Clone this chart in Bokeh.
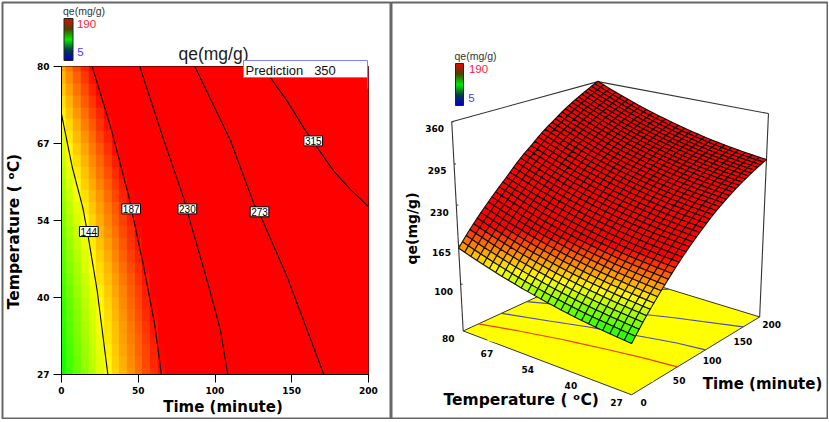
import numpy as np
from bokeh.core.properties import value
from bokeh.embed import file_html
from bokeh.layouts import row
from bokeh.models import (ColorBar, ColumnDataSource, FixedTicker, Label, LinearColorMapper, Range1d)
from bokeh.plotting import figure
from bokeh.resources import INLINE

# ---------- values ----------
time_axis = list(range(0, 205, 5))
temp_ticks = [27, 40.25, 53.5, 66.75, 80]
temp_tick_labels = ["27", "40", "54", "67", "80"]
time_ticks = [0, 50, 100, 150, 200]
z_ticks = [100, 165, 230, 295, 360]
n_temps = 27

# qe along the 27 C edge, one value every 5 minutes
qe_at_27C = [100, 108, 115.8, 123.3, 130.4, 137.3, 144, 150.6, 157, 163.2, 169.2, 175.3, 181.2, 187,
             192.6, 198, 203.2, 208.2, 213, 217.8, 222.6, 227.3, 231.8, 236, 240, 243.9, 247.6, 251.2,
             254.7, 258, 261.2, 264.3, 267.2, 270, 272.7, 275.3, 277.8, 280.2, 282.5, 284.7, 286.8]
# rise of qe above the 27 C edge, for 27 temperature rows
rise_by_temp = [0, 1.1, 2.2, 3.4, 4.7, 6.1, 7.5, 9.1, 10.8, 12.7, 14.6, 16.7, 18.8, 21, 23.4, 25.9, 28.4,
                31.1, 33.8, 36.7, 39.8, 42.9, 46.1, 49.4, 52.8, 56.4, 60]
# how much that rise grows with time
rise_scale_by_time = [1, 1, 1, 1, 1, 1, 1, 1, 1, 1, 1, 1, 1, 1,
                      1.01, 1.02, 1.03, 1.04, 1.05, 1.05, 1.05, 1.06, 1.07, 1.08, 1.09, 1.1, 1.1, 1.11,
                      1.12, 1.13, 1.14, 1.15, 1.16, 1.17, 1.17, 1.18, 1.19, 1.2, 1.21, 1.22, 1.23]

c144_time = [0, 7, 14, 17.8, 23.2, 30.2]
c144_temp = [71.8, 62.7, 55.6, 50.1, 41.5, 27]
c187_time = [20, 32, 43.9, 46.7, 53.6, 60.6, 65.1]
c187_temp = [80, 69.6, 57.6, 54.1, 45.5, 35.8, 27]
c230_time = [51, 66.7, 79.3, 83, 96, 103.6, 108.3]
c230_temp = [80, 67.3, 57.6, 54.1, 42.1, 34.6, 27]
c273_time = [86.9, 110, 125.3, 130, 147, 170.9]
c273_temp = [80, 67.3, 56.4, 54.1, 43.8, 27]
c315_time = [132, 136, 147.2, 157.9, 167.5, 177.4, 188.3, 200]
c315_temp = [80, 78.1, 74, 69.4, 65.7, 62, 58.8, 55.9]
contour_levels = [144, 187, 230, 273, 315]
label_time = [17.8, 45.4, 82, 129, 164]
label_temp = [51.6, 55.5, 55.5, 55, 67.2]

# ---------- colours ----------
stops = [(0, 0, 255), (0, 255, 255), (0, 255, 0), (255, 255, 0), (255, 0, 0)]
def ramp(stop_list, n):
    xs = np.linspace(0, len(stop_list) - 1, n)
    arr = np.array(stop_list, float)
    return ["#%02x%02x%02x" % tuple(int(np.interp(x, range(len(stop_list)), arr[:, k])) for k in range(3)) for x in xs]
qe_mapper = LinearColorMapper(palette=ramp(stops, 256), low=5, high=190, high_color="#ff0000")
legend_mapper = LinearColorMapper(palette=ramp([(0, 0, 200), (0, 60, 70), (0, 235, 0), (70, 70, 0), (225, 10, 0)], 64), low=5, high=190)

qe = np.array(qe_at_27C)[None, :] + np.array(rise_by_temp)[:, None] * np.array(rise_scale_by_time)[None, :]
temp_rows = np.linspace(27, 80, n_temps)

contours = [(c144_time, c144_temp), (c187_time, c187_temp), (c230_time, c230_temp),
            (c273_time, c273_temp), (c315_time, c315_temp)]

W1, W2, H = 390, 437, 418
ORIGIN = 1
BORDER = "#666666"

# ---------- left: contour plot ----------
left = figure(width=W1, height=H, x_range=Range1d(0, 200), y_range=Range1d(27, 80),
              output_backend="svg", toolbar_location=None, min_border_left=60, min_border_right=23,
              min_border_top=65, min_border_bottom=45, frame_align=False)
left.grid.visible = False
left.outline_line_color = "black"
left.image(image=[qe], x=-2.5, y=27 - 53 / 52, dw=205, dh=53 + 53 / 26, color_mapper=qe_mapper)
for cx, cy in contours:
    left.line(cx, cy, line_color="black", line_width=1.1)
left.xaxis.ticker = FixedTicker(ticks=time_ticks)
left.yaxis.ticker = FixedTicker(ticks=temp_ticks)
left.yaxis.major_label_overrides = dict(zip(temp_ticks, temp_tick_labels))
for ax in (left.xaxis[0], left.yaxis[0]):
    ax.major_label_text_font = "DejaVu Sans"
    ax.major_label_text_font_style = "bold"
    ax.major_label_text_font_size = "9px"
    ax.major_label_text_color = "black"
    ax.major_tick_out = 8
    ax.major_tick_in = 0
    ax.minor_tick_line_color = None
    ax.axis_line_color = "black"
    ax.major_label_standoff = 4

for lev, lt, lT in zip(contour_levels, label_time, label_temp):
    left.add_layout(Label(x=lt, y=lT, text=str(lev), text_font="Liberation Sans", text_font_size="10px",
                          text_color="black", text_align="center", text_baseline="middle",
                          background_fill_color="white", border_line_color="black", border_line_width=1,
                          padding=1))

left.segment(x0=[199.6], y0=[80], x1=[199.6], y1=[76.2], line_color="#8080ff", line_width=1)

cb_left = ColorBar(color_mapper=legend_mapper, width=9, height=42, location=(2.5, 314), padding=0, margin=0,
                   ticker=FixedTicker(ticks=[]), major_tick_line_color=None, major_label_text_font_size="0px",
                   bar_line_color="#222222", background_fill_color=None, border_line_color=None)
left.add_layout(cb_left, "center")

# transparent sheet over the left panel: its frame is the panel border, it holds the outer texts
sheet = figure(width=W1, height=H, x_range=Range1d(ORIGIN + 1, ORIGIN + W1), y_range=Range1d(ORIGIN + H - 1, ORIGIN + 1),
               output_backend="svg", toolbar_location=None, x_axis_location=None, y_axis_location=None,
               min_border_left=1, min_border_top=1, min_border_bottom=1, min_border_right=0, frame_align=False,
               background_fill_color=None, border_fill_color=None, margin=(0, 0, 0, -W1))
sheet.grid.visible = False
sheet.outline_line_color = BORDER
sheet.outline_line_width = 2

def put_text(fig, x, y, text, size, color="black", font="DejaVu Sans", style="bold", angle=0, align="center"):
    fig.text([x], [y], text=[text], text_font=value(font), text_font_size=value(size), text_font_style=style,
             text_color=color, text_align=align, text_baseline="middle", angle=angle)

SANS = "Liberation Sans"
put_text(sheet, 213, 53, "qe(mg/g)", "17.5px", "#222222", SANS, "normal")
put_text(sheet, 222.5, 406.5, "Time (minute)", "15px")
put_text(sheet, 13, 231, "Temperature ( ᵒC)", "15.5px", angle=np.pi / 2)
put_text(sheet, 83.5, 10, "qe(mg/g)", "10.5px", "#333333", SANS, "normal")
put_text(sheet, 86, 23, "190", "11.5px", "#ff2040", SANS, "normal")
put_text(sheet, 80, 51, "5", "11.5px", "#4040ff", SANS, "normal")
sheet.quad(left=[243], right=[367], top=[60], bottom=[77], fill_color="white", line_color="#8080ff", line_width=1)
put_text(sheet, 245, 69.5, "Prediction\u00a0\u00a0\u00a0350", "13px", "#111111", SANS, "normal", align="left")

# ---------- right: 3D surface ----------
right = figure(width=W2, height=H, x_range=Range1d(ORIGIN + W1, ORIGIN + W1 + W2 - 1),
               y_range=Range1d(ORIGIN + H - 1, ORIGIN + 1), output_backend="svg", toolbar_location=None,
               x_axis_location=None, y_axis_location=None, min_border_left=0, min_border_top=1,
               min_border_bottom=1, min_border_right=1, frame_align=False)
right.grid.visible = False
right.outline_line_color = BORDER
right.outline_line_width = 2

Z0, Z1 = 20, 360
corners_world = [(0, 80, Z0), (0, 27, Z0), (200, 27, Z0), (200, 80, Z0), (0, 80, Z1), (200, 80, Z1), (200, 27, Z1)]
corners_page = [(461.7, 330), (631.7, 394.3), (758.3, 316.7), (600.3, 267.6), (451.7, 121.7), (596.7, 81), (768.3, 112.7)]

def norm(t, T, z):
    return np.array([np.asarray(t, float) / 200, (80 - np.asarray(T, float)) / 53, (np.asarray(z, float) - Z0) / (Z1 - Z0)])

A = []
for w, (u, v) in zip(corners_world, corners_page):
    X = norm(*w)
    h = [X[0], X[1], X[2], 1]
    A.append(h + [0, 0, 0, 0] + [-u * c for c in h])
    A.append([0, 0, 0, 0] + h + [-v * c for c in h])
CAM = np.linalg.svd(np.array(A))[2][-1].reshape(3, 4)

def project(t, T, z):
    X = norm(t, T, z)
    hom = np.stack([X[0], X[1], X[2], np.ones_like(X[0])])
    q = CAM @ hom
    return q[0] / q[2], q[1] / q[2]

def pxy(t, T, z):
    x, y = project(np.array(t, float), np.array(T, float), np.array(z, float))
    return list(np.atleast_1d(x)), list(np.atleast_1d(y))

fx, fy = pxy([0, 0, 200, 200], [80, 27, 27, 80], [Z0] * 4)
right.patch(fx, fy, fill_color="#ffff00", line_color="#333333", line_width=1)
for (cx, cy), lev in zip(contours, contour_levels):
    lx, ly = pxy(cx, cy, [Z0] * len(cx))
    color = "#ffff00" if lev == 144 else "#f03a10" if lev == 187 else "#4848c0"
    right.line(lx, ly, line_color=color, line_width=1.2)
for t0, T0, z0, t1, T1, z1 in [(0, 80, Z0, 0, 80, Z1), (200, 80, Z0, 200, 80, Z1), (200, 27, Z0, 200, 27, Z1),
                               (0, 80, Z1, 200, 80, Z1), (200, 80, Z1, 200, 27, Z1)]:
    lx, ly = pxy([t0, t1], [T0, T1], [z0, z1])
    right.line(lx, ly, line_color="#333333", line_width=1.1)
for zt in z_ticks:
    lx, ly = pxy([0], [80], [zt])
    right.segment(x0=[lx[0]], y0=[ly[0]], x1=[lx[0] + 2], y1=[ly[0]], line_color="#333333")

xs, ys, vals, depth = [], [], [], []
tt = np.array(time_axis, float)
for i in range(n_temps - 1):
    for j in range(len(time_axis) - 1):
        ct = [tt[j], tt[j + 1], tt[j + 1], tt[j]]
        cT = [temp_rows[i], temp_rows[i], temp_rows[i + 1], temp_rows[i + 1]]
        cz = [qe[i, j], qe[i, j + 1], qe[i + 1, j + 1], qe[i + 1, j]]
        x, y = project(np.array(ct), np.array(cT), np.array(cz))
        xs.append(list(x)); ys.append(list(y)); vals.append(float(np.mean(cz)))
        depth.append(tt[j] / 200 + (temp_rows[i] - 27) / 53)
order = np.argsort(depth)[::-1]
src = ColumnDataSource(dict(xs=[xs[k] for k in order], ys=[ys[k] for k in order], v=[vals[k] for k in order]))
right.patches("xs", "ys", source=src, fill_color={"field": "v", "transform": qe_mapper},
              line_color="#101010", line_width=1.1)

for zt in z_ticks:
    lx, ly = pxy([0], [80], [zt])
    put_text(right, lx[0] - 17, ly[0] + 7, str(zt), "9px")
for tk in time_ticks:
    lx, ly = pxy([tk], [27], [Z0])
    put_text(right, lx[0] + 12, ly[0] + 7.5, str(tk), "9px")
for tk, lab in zip(temp_ticks, temp_tick_labels):
    lx, ly = pxy([0], [tk], [Z0])
    put_text(right, lx[0] - 15, ly[0] + 8, lab, "9px")

put_text(right, 411, 228, "qe(mg/g)", "14px", angle=np.pi / 2)
put_text(right, 762, 383, "Time (minute)", "15px")
put_text(right, 520.7, 399, "Temperature ( ᵒC)", "15.5px")
put_text(right, 475, 55, "qe(mg/g)", "10.5px", "#333333", SANS, "normal")
put_text(right, 478, 68.7, "190", "11.5px", "#ff2040", SANS, "normal")
put_text(right, 471, 97, "5", "11.5px", "#4040ff", SANS, "normal")

cb_right = ColorBar(color_mapper=legend_mapper, width=8, height=42, location=(64, 313), padding=0, margin=0,
                    ticker=FixedTicker(ticks=[]), major_tick_line_color=None, major_label_text_font_size="0px",
                    bar_line_color="#222222", background_fill_color=None, border_line_color=None)
right.add_layout(cb_right, "center")

page = row(left, sheet, right, margin=(ORIGIN, 0, 0, ORIGIN), spacing=0)
open("out.html", "w").write(file_html(page, INLINE))
